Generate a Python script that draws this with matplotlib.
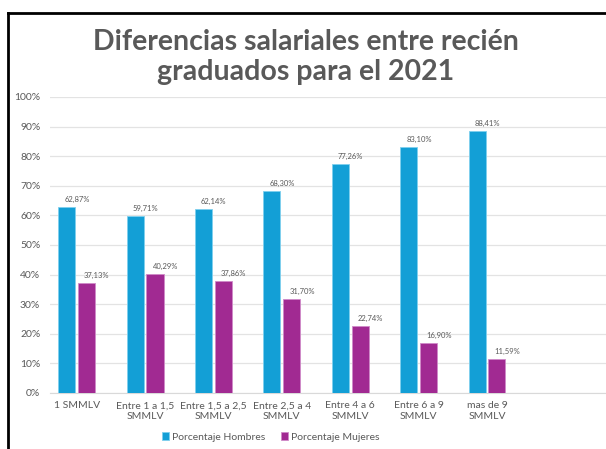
import matplotlib.pyplot as plt
from matplotlib.lines import Line2D
import numpy as np

categorias = ["1 SMMLV", "Entre 1 a 1,5\nSMMLV", "Entre 1,5 a 2,5\nSMMLV",
              "Entre 2,5 a 4\nSMMLV", "Entre 4 a 6\nSMMLV", "Entre 6 a 9\nSMMLV",
              "mas de 9\nSMMLV"]
hombres = [62.87, 59.71, 62.14, 68.30, 77.26, 83.10, 88.41]
mujeres = [37.13, 40.29, 37.86, 31.70, 22.74, 16.90, 11.59]

AZUL = "#139fd6"
MORADO = "#a12a92"
GRIS = "#595959"

plt.rcParams['font.family'] = ['Lato', 'DejaVu Sans']


def pct(v):
    return f"{v:.2f}%".replace(".", ",")


def main():
    fig = plt.figure(figsize=(6.06, 4.49), dpi=100)
    ax = fig.add_axes([50 / 606, 0.125, 1 - 50 / 606, 0.659])

    x = np.arange(len(categorias))
    w = 0.25
    b1 = ax.bar(x - w / 2 - 0.02, hombres, w, color=AZUL, edgecolor="#7fd0ee",
                linewidth=0.6, label="Porcentaje Hombres", zorder=3)
    b2 = ax.bar(x + w / 2 + 0.02, mujeres, w, color=MORADO, edgecolor="#d08ac8",
                linewidth=0.6, label="Porcentaje Mujeres", zorder=3)

    for bars, vals in ((b1, hombres), (b2, mujeres)):
        for r, v in zip(bars, vals):
            ax.text(r.get_x() + r.get_width() / 2 + 0.15, v + 1.3, pct(v),
                    ha="center", va="bottom", fontsize=5.5, color=GRIS)

    ax.set_ylim(0, 100)
    ax.set_xlim(-0.39, 7.74)
    ax.set_yticks(range(0, 101, 10))
    ax.set_yticklabels([f"{t}%" for t in range(0, 101, 10)])
    ax.set_xticks(x)
    ax.set_xticklabels(categorias)
    ax.tick_params(axis="both", length=0, labelsize=7.5, colors=GRIS)
    ax.tick_params(axis="y", pad=7)
    ax.tick_params(axis="x", pad=6)
    ax.grid(axis="y", color="#e3e3e3", linewidth=0.9, zorder=0)
    for s in ["top", "right", "left"]:
        ax.spines[s].set_visible(False)
    ax.spines["bottom"].set_color("#d9d9d9")

    fig.text(0.505, 0.873, "Diferencias salariales entre recién\ngraduados para el 2021",
             ha="center", va="center", fontsize=20.5, fontweight="bold",
             color=GRIS, linespacing=1.15)

    fig.legend(handles=[b1, b2], loc="center", bbox_to_anchor=(0.447, 0.027),
               ncol=2, frameon=False, fontsize=7.5, handlelength=0.7,
               handleheight=0.7, handletextpad=0.3, columnspacing=1.5,
               labelcolor=GRIS)

    # marco negro (izquierda y arriba)
    fig.add_artist(Line2D([8 / 606, 8 / 606], [0, 1 - 13 / 449],
                          transform=fig.transFigure, color="black", linewidth=2))
    fig.add_artist(Line2D([8 / 606, 1], [1 - 13 / 449, 1 - 13 / 449],
                          transform=fig.transFigure, color="black", linewidth=2))

    fig.savefig("out.png", dpi=100)


if __name__ == "__main__":
    main()
